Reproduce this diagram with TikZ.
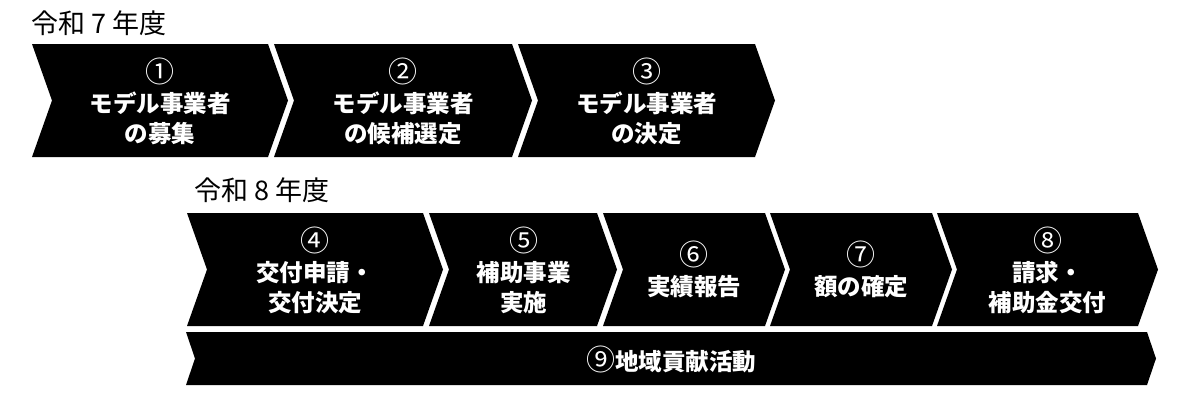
\documentclass[tikz,border=0pt]{standalone}
\usepackage{fontspec}
\setmainfont{Noto Sans CJK JP}
\usepackage{tikz}
\usetikzlibrary{calc}

% left, right, top, bottom, depth of the point
\newcommand{\chevronshape}[5]{%
  \fill (#1,#3) -- (#2,#3) -- ({#2+#5},{(#3+#4)/2}) -- (#2,#4)
    -- (#1,#4) -- ({#1+#5},{(#3+#4)/2}) -- cycle;}
% circled step number
\newcommand{\stepno}[1]{{\mdseries\fontsize{29}{30}\selectfont #1}}

\begin{document}
\begin{tikzpicture}[x=1pt, y=-1pt,
  steplabel/.style={text=white, font=\bfseries\fontsize{23.5}{30}\selectfont, align=center},
  yearlabel/.style={anchor=west, inner sep=0pt, font=\fontsize{27}{30}\selectfont}]
  \useasboundingbox (0,0) rectangle (1183,400);

  % Reiwa 7
  \node[yearlabel] (year7) at (31,23) {令和 7 年度};
  \chevronshape{32}{268}{44}{157}{20}
  \chevronshape{274}{512}{44}{157}{20}
  \chevronshape{518}{755}{44}{157}{20}
  \node[steplabel] (st1) at (160,101) {\stepno{①}\\モデル事業者\\の募集};
  \node[steplabel] (st2) at (403,101) {\stepno{②}\\モデル事業者\\の候補選定};
  \node[steplabel] (st3) at (646.5,101) {\stepno{③}\\モデル事業者\\の決定};

  % Reiwa 8
  \node[yearlabel] (year8) at (194,190.5) {令和 8 年度};
  \chevronshape{187}{423}{213}{326}{20}
  \chevronshape{429}{597}{213}{326}{20}
  \chevronshape{603}{765}{213}{326}{20}
  \chevronshape{770}{932}{213}{326}{20}
  \chevronshape{937}{1138}{213}{326}{20}
  \node[steplabel] (st4) at (315,270) {\stepno{④}\\交付申請・\\交付決定};
  \node[steplabel] (st5) at (523.5,270) {\stepno{⑤}\\補助事業\\実施};
  \node[steplabel] (st6) at (694,269.5) {\stepno{⑥}\\実績報告};
  \node[steplabel] (st7) at (861,269.5) {\stepno{⑦}\\額の確定};
  \node[steplabel] (st8) at (1047.5,270) {\stepno{⑧}\\請求・\\補助金交付};

  % running through the whole year
  \chevronshape{186}{1147}{332}{385}{9}
  \node[steplabel] (st9) at (671,359) {\stepno{⑨}地域貢献活動};
\end{tikzpicture}
\end{document}
